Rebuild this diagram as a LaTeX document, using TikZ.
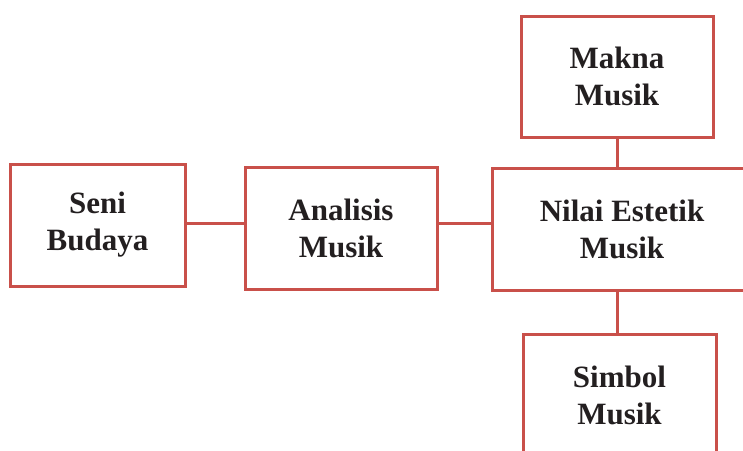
\documentclass[tikz,border=0pt]{standalone}
\usepackage{fontspec}
\setmainfont{Liberation Serif}
\definecolor{boxred}{RGB}{201,80,74}
\definecolor{txt}{RGB}{35,31,32}
\begin{document}
\begin{tikzpicture}[x=1pt,y=-1pt,
  box/.style={draw=boxred,line width=3pt,rectangle,inner sep=0pt,align=center,
    text=txt,font=\fontsize{31}{37}\selectfont\bfseries},
  link/.style={draw=boxred,line width=3pt}]
\useasboundingbox (0,0) rectangle (743,450);
\clip (0,0) rectangle (743,450);
\node[box,minimum width=175pt,minimum height=122pt] (seni) at (97.5,225) {Seni\\Budaya};
\node[box,minimum width=192pt,minimum height=122pt] (analisis) at (341,228) {Analisis\\Musik};
\node[box,minimum width=260pt,minimum height=122pt] (nilai) at (622,229) {Nilai Estetik\\Musik};
\node[box,minimum width=192pt,minimum height=121pt] (makna) at (617,76.5) {Makna\\Musik};
\node[box,minimum width=193pt,minimum height=122pt] (simbol) at (619.5,395) {Simbol\\Musik};
\coordinate (m) at (0,223.5);
\draw[link] (seni.east |- m) -- (analisis.west |- m);
\draw[link] (analisis.east |- m) -- (nilai.west |- m);
\draw[link] (makna.south) -- (makna.south |- nilai.north);
\draw[link] (nilai.south -| makna.south) -- (simbol.north -| makna.south);
\end{tikzpicture}
\end{document}
